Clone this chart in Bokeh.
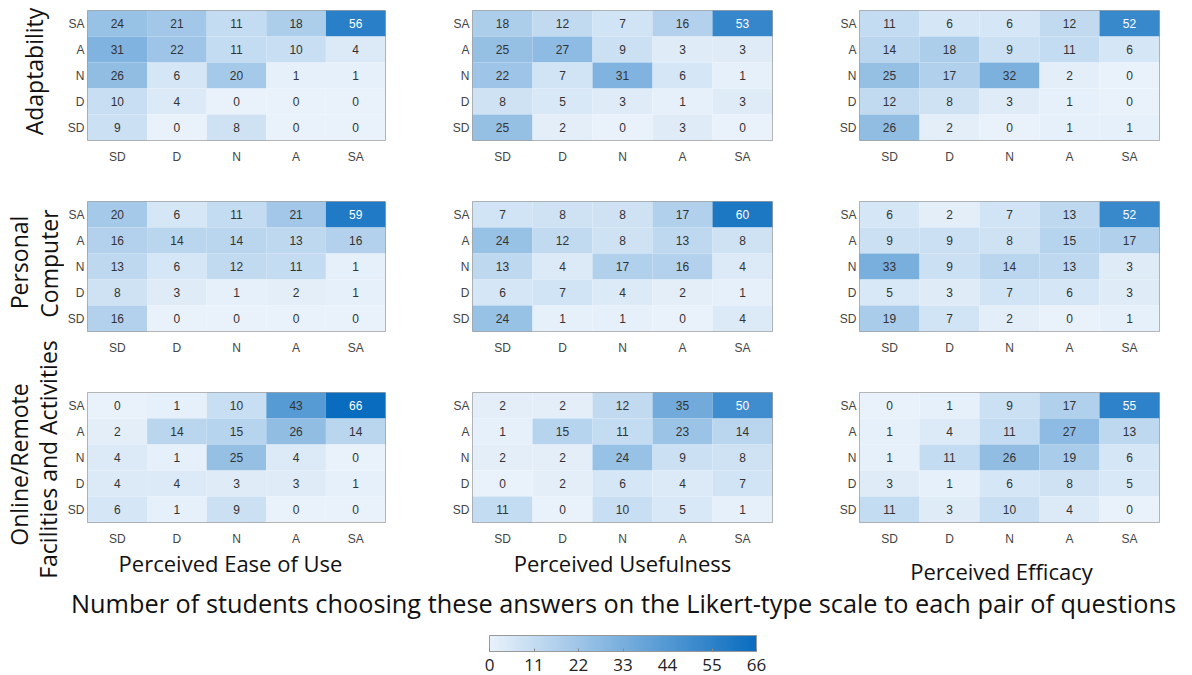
import math
from bokeh.plotting import figure
from bokeh.layouts import row, column
from bokeh.models import (ColumnDataSource, LinearColorMapper, ColorBar, FixedTicker,
                          Label, Range1d)
from bokeh.core.properties import value
from bokeh.embed import file_html
from bokeh.resources import INLINE

# ---------------- data ----------------
LEVELS = ["SD", "D", "N", "A", "SA"]          # x categories (left -> right)
ROWS_TOP = ["SA", "A", "N", "D", "SD"]        # y categories (top -> bottom)

col_groups = ["Perceived Ease of Use", "Perceived Usefulness", "Perceived Efficacy"]

# each matrix: rows SA, A, N, D, SD ; columns SD, D, N, A, SA
adapt_ease = [[24, 21, 11, 18, 56], [31, 22, 11, 10, 4], [26, 6, 20, 1, 1], [10, 4, 0, 0, 0], [9, 0, 8, 0, 0]]
adapt_useful = [[18, 12, 7, 16, 53], [25, 27, 9, 3, 3], [22, 7, 31, 6, 1], [8, 5, 3, 1, 3], [25, 2, 0, 3, 0]]
adapt_efficacy = [[11, 6, 6, 12, 52], [14, 18, 9, 11, 6], [25, 17, 32, 2, 0], [12, 8, 3, 1, 0], [26, 2, 0, 1, 1]]

pc_ease = [[20, 6, 11, 21, 59], [16, 14, 14, 13, 16], [13, 6, 12, 11, 1], [8, 3, 1, 2, 1], [16, 0, 0, 0, 0]]
pc_useful = [[7, 8, 8, 17, 60], [24, 12, 8, 13, 8], [13, 4, 17, 16, 4], [6, 7, 4, 2, 1], [24, 1, 1, 0, 4]]
pc_efficacy = [[6, 2, 7, 13, 52], [9, 9, 8, 15, 17], [33, 9, 14, 13, 3], [5, 3, 7, 6, 3], [19, 7, 2, 0, 1]]

online_ease = [[0, 1, 10, 43, 66], [2, 14, 15, 26, 14], [4, 1, 25, 4, 0], [4, 4, 3, 3, 1], [6, 1, 9, 0, 0]]
online_useful = [[2, 2, 12, 35, 50], [1, 15, 11, 23, 14], [2, 2, 24, 9, 8], [0, 2, 6, 4, 7], [11, 0, 10, 5, 1]]
online_efficacy = [[0, 1, 9, 17, 55], [1, 4, 11, 27, 13], [1, 11, 26, 19, 6], [3, 1, 6, 8, 5], [11, 3, 10, 4, 0]]

color_ticks = [0, 11, 22, 33, 44, 55, 66]

matrices = [[adapt_ease, adapt_useful, adapt_efficacy],
            [pc_ease, pc_useful, pc_efficacy],
            [online_ease, online_useful, online_efficacy]]

# ---------------- style ----------------
LOW_RGB = (233, 242, 251)
HIGH_RGB = (9, 108, 191)
palette = []
for k in range(256):
    t = k / 255
    r, g, b = (round(LOW_RGB[i] + (HIGH_RGB[i] - LOW_RGB[i]) * t) for i in range(3))
    palette.append("#%02x%02x%02x" % (r, g, b))
mapper = LinearColorMapper(palette=palette, low=0, high=66)

BIG_FONT = "Open Sans"
SMALL_FONT = "Liberation Sans"

LABEL_W = 64
L_BORDERS = [21, 23, 23]
R_BORDERS = [64, 64, 25]
FRAME_W = 300
FRAME_H = 130
TOP_BORDER = 10
ROW_BOTTOM = [51, 51, 27]


def heat(mat, ci, ri):
    xs, ys, vs, labels, tcs = [], [], [], [], []
    for i, yl in enumerate(ROWS_TOP):
        for j, xl in enumerate(LEVELS):
            v = mat[i][j]
            xs.append(xl)
            ys.append(yl)
            vs.append(v)
            labels.append(str(v))
            tcs.append("#ffffff" if v >= 47 else "#333333")
    src = ColumnDataSource(dict(x=xs, y=ys, v=vs, label=labels, tc=tcs))
    p = figure(width=L_BORDERS[ci] + FRAME_W + R_BORDERS[ci],
               height=TOP_BORDER + FRAME_H + ROW_BOTTOM[ri],
               x_range=LEVELS, y_range=LEVELS,
               min_border_left=L_BORDERS[ci], min_border_right=R_BORDERS[ci],
               min_border_top=TOP_BORDER, min_border_bottom=ROW_BOTTOM[ri],
               toolbar_location=None, tools="", output_backend="svg")
    p.rect(x="x", y="y", width=1, height=1, source=src, line_color=None,
           fill_color={"field": "v", "transform": mapper})
    p.text(x="x", y="y", text="label", source=src, text_align="center", text_baseline="middle",
           text_font=value(SMALL_FONT), text_font_size="12px", text_color="tc")
    p.xgrid.visible = False
    p.ygrid.visible = False
    p.outline_line_color = "#a0a0a0"
    for ax in (p.xaxis, p.yaxis):
        ax.major_tick_line_color = None
        ax.minor_tick_line_color = None
        ax.major_tick_out = 0
        ax.major_tick_in = 0
        ax.minor_tick_out = 0
        ax.axis_line_color = None
        ax.major_label_text_font = SMALL_FONT
        ax.major_label_text_font_size = "12px"
        ax.major_label_text_color = "#444444"
    p.xaxis.major_label_standoff = 9
    p.yaxis.major_label_standoff = 3
    return p


rows = []
for ri in range(3):
    rows.append(row(*[heat(matrices[ri][ci], ci, ri) for ci in range(3)]))

total_w = LABEL_W + sum(L_BORDERS[c] + FRAME_W + R_BORDERS[c] for c in range(3))
grid_h = sum(TOP_BORDER + FRAME_H + b for b in ROW_BOTTOM)
PAGE_H = 675
bottom_h = PAGE_H - grid_h

# bottom figure: column titles, main title, colorbar (page-pixel coordinates)
bottom = figure(width=total_w - LABEL_W, height=bottom_h,
                x_range=Range1d(LABEL_W, total_w), y_range=Range1d(PAGE_H, grid_h),
                min_border=0, toolbar_location=None, tools="", output_backend="svg")
bottom.axis.visible = False
bottom.xgrid.visible = False
bottom.ygrid.visible = False
bottom.outline_line_color = None
bottom.scatter(x=[LABEL_W], y=[PAGE_H], size=0, alpha=0)

col_pos = [(230, 562), (622, 562), (1001, 570)]
for txt, (x, y) in zip(col_groups, col_pos):
    bottom.add_layout(Label(x=x, y=y, text=txt, text_align="center", text_baseline="middle",
                            text_font=BIG_FONT, text_font_size="22px", text_color="#111111"))
bottom.add_layout(Label(x=623, y=602,
                        text="Number of students choosing these answers on the Likert-type scale to each pair of questions",
                        text_align="center", text_baseline="middle",
                        text_font=BIG_FONT, text_font_size="25.3px", text_color="#111111"))

cb = ColorBar(color_mapper=mapper, orientation="horizontal", width=267, height=16,
              location=(489 - LABEL_W, 2), padding=0, margin=0,
              ticker=FixedTicker(ticks=color_ticks),
              major_label_text_font=BIG_FONT, major_label_text_font_size="17px",
              major_label_text_color="#222222", label_standoff=7,
              major_tick_line_color="#888888", major_tick_in=3, major_tick_out=0,
              bar_line_color="#999999", background_fill_alpha=0)
bottom.add_layout(cb, "center")

# left label figure (page-pixel coordinates)
labelfig = figure(width=LABEL_W, height=PAGE_H, x_range=Range1d(0, LABEL_W), y_range=Range1d(PAGE_H, 0),
                  min_border=0, toolbar_location=None, tools="", output_backend="svg")
labelfig.axis.visible = False
labelfig.xgrid.visible = False
labelfig.ygrid.visible = False
labelfig.outline_line_color = None
labelfig.scatter(x=[0], y=[0], size=0, alpha=0)
row_label_pos = [("Adaptability", 33, 71), ("Personal", 18, 262), ("Computer", 48, 263),
                 ("Online/Remote", 18, 464), ("Facilities and Activities", 47, 459)]
for txt, x, y in row_label_pos:
    labelfig.add_layout(Label(x=x, y=y, text=txt, angle=math.pi / 2, text_align="center",
                              text_baseline="middle", text_font=BIG_FONT, text_font_size="23px",
                              text_color="#111111"))

layout = row(labelfig, column(*rows, bottom))
open("out.html", "w").write(file_html(layout, INLINE))
